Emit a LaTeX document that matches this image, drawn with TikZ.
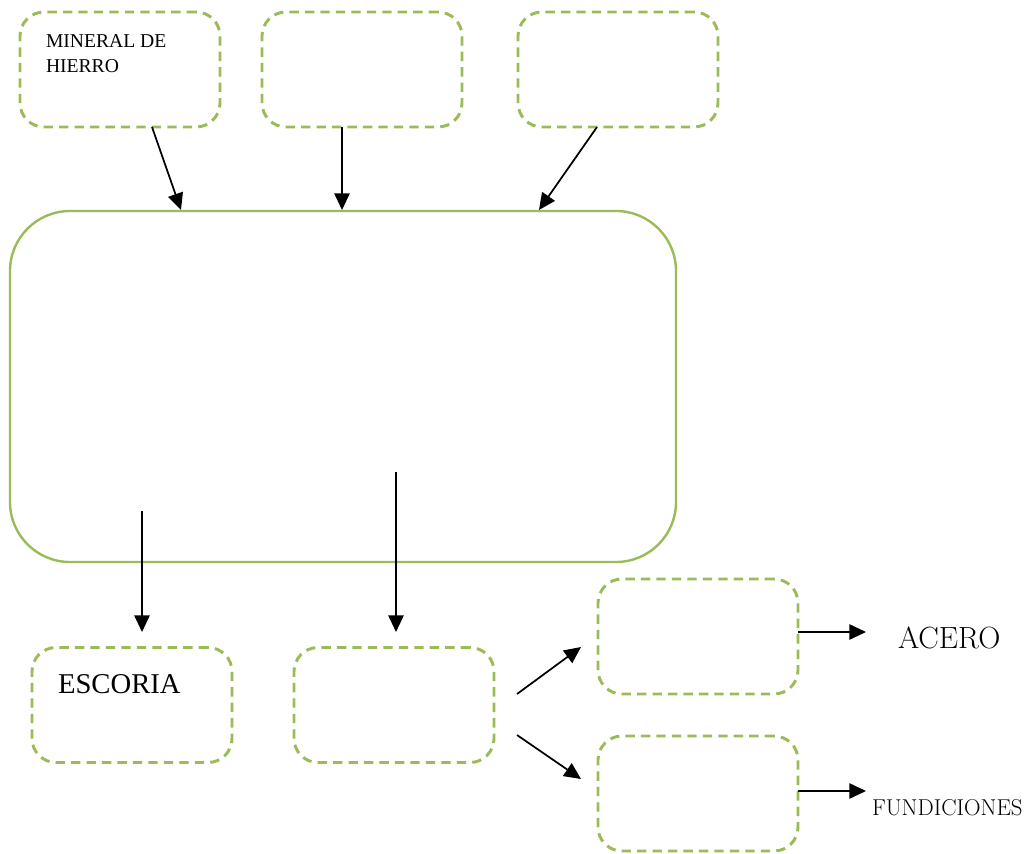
\documentclass[tikz,border=0pt]{standalone}
\usepackage{fontspec}
\newfontfamily\cambria{Liberation Serif}
\usetikzlibrary{arrows.meta}
\definecolor{olivegreen}{HTML}{9BBB59}
\begin{document}
\begin{tikzpicture}[x=0.75pt,y=-0.75pt,
  dbox/.style={draw=olivegreen,line width=2.2pt,dash pattern=on 7pt off 4.6pt,rounded corners=18pt,
    minimum width=150pt,minimum height=86.25pt,inner sep=0pt,outer sep=0pt},
  bigbox/.style={draw=olivegreen,line width=1.8pt,rounded corners=45pt,
    minimum width=499.5pt,minimum height=263.25pt,inner sep=0pt,outer sep=0pt},
  arr/.style={draw=black,line width=1.3pt,-{Triangle[length=12.5pt,width=11.5pt]}},
  lbl/.style={inner sep=0pt,outer sep=0pt,anchor=base west,text=black}]
\useasboundingbox (0,0) rectangle (1031,853);
% boxes
\node[dbox] (t1) at (120,69.5) {};
\node[dbox] (t2) at (362,69.5) {};
\node[dbox] (t3) at (618,69.5) {};
\node[bigbox] (big) at (343,386.5) {};
\node[dbox] (esc) at (132,705) {};
\node[dbox] (mid) at (394,705) {};
\node[dbox] (r1) at (698,636.5) {};
\node[dbox] (r2) at (698,793.5) {};
% texts
\node[lbl,font=\cambria\fontsize{14.7pt}{18pt}\selectfont] (mh1) at (46,47) {MINERAL DE};
\node[lbl,font=\cambria\fontsize{14.7pt}{18pt}\selectfont] (mh2) at (46,72) {HIERRO};
\node[lbl,font=\cambria\fontsize{21.5pt}{26pt}\selectfont] (esct) at (58,693) {ESCORIA};
\node[lbl,font=\fontsize{23pt}{27pt}\selectfont] (acero) at (898,648) {ACERO};
\node[lbl,font=\fontsize{17.2pt}{20pt}\selectfont] (fund) at (872,815) {FUNDICIONES};
% connector end points
\coordinate (a1s) at (152,127); \coordinate (a1e) at (181,210);
\coordinate (a2s) at (342,127); \coordinate (a2e) at (342,210);
\coordinate (a3s) at (597,127); \coordinate (a3e) at (539,210);
\coordinate (b1s) at (142,511); \coordinate (b1e) at (142,632);
\coordinate (b2s) at (396,472); \coordinate (b2e) at (396,632);
\coordinate (c1s) at (517,694); \coordinate (c1e) at (581,647);
\coordinate (c2s) at (517,735); \coordinate (c2e) at (581,779);
\coordinate (d1s) at (798,632); \coordinate (d1e) at (866,632);
\coordinate (d2s) at (798,791); \coordinate (d2e) at (866,791);
\draw[arr] (a1s) -- (a1e);
\draw[arr] (a2s) -- (a2e);
\draw[arr] (a3s) -- (a3e);
\draw[arr] (b1s) -- (b1e);
\draw[arr] (b2s) -- (b2e);
\draw[arr] (c1s) -- (c1e);
\draw[arr] (c2s) -- (c2e);
\draw[arr] (d1s) -- (d1e);
\draw[arr] (d2s) -- (d2e);
\end{tikzpicture}
\end{document}
